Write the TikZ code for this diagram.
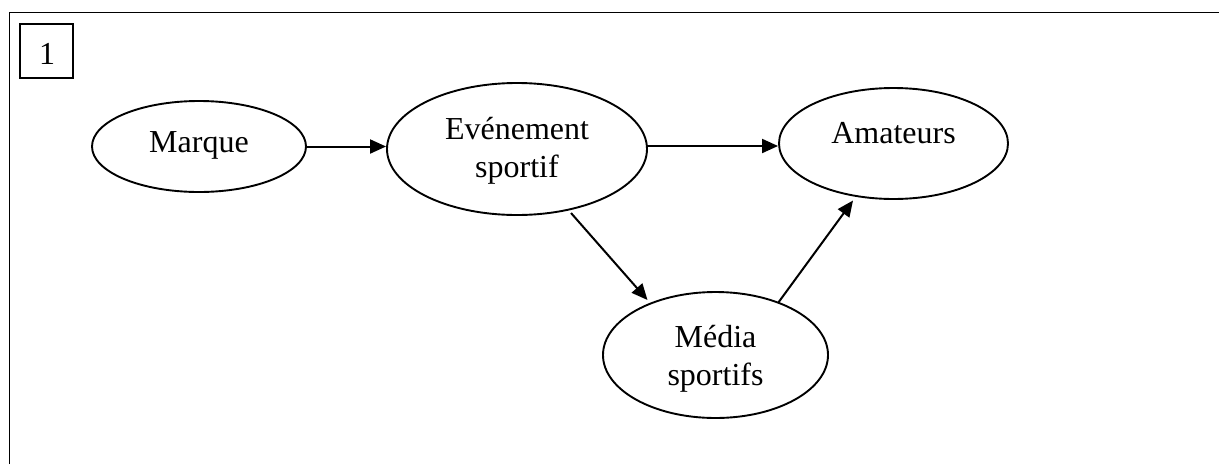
\documentclass[tikz,border=0pt]{standalone}
\usepackage{fontspec}
\setmainfont{Liberation Serif}
\usetikzlibrary{arrows.meta,shapes.geometric,calc}
\begin{document}
\begin{tikzpicture}[x=1pt,y=-1pt,
  bubble/.style={draw,ellipse,line width=1.9pt,inner sep=0pt},
  txt/.style={font=\fontsize{32}{38}\selectfont,align=center,inner sep=0pt,anchor=base},
  link/.style={line width=2pt,-{Triangle[length=16pt,width=14pt]}},
  frame/.style={line width=1.8pt}]
\useasboundingbox (0,0) rectangle (1219,464);
% outer frame (open at right and bottom)
\coordinate (fbl) at (9.5,464);
\coordinate (ftl) at (9.5,12.5);
\coordinate (ftr) at (1219,12.5);
\draw[frame] (fbl) -- (ftl) -- (ftr);
% number box
\node[draw,line width=1.8pt,minimum width=53pt,minimum height=54pt,inner sep=0pt] (num) at (46.5,51) {};
\node[txt] (numt) at (47,64) {1};
% ellipses
\node[bubble,minimum width=214pt,minimum height=91pt] (marque) at (199,146.5) {};
\node[bubble,minimum width=260pt,minimum height=132pt] (event) at (517,149) {};
\node[bubble,minimum width=229pt,minimum height=111pt] (amat) at (893.5,143.5) {};
\node[bubble,minimum width=225pt,minimum height=126pt] (media) at (715.5,355) {};
% texts
\node[txt] (marquet) at (199,152) {Marque};
\node[txt] (eventt) at (517,177) {Evénement\\sportif};
\node[txt] (amatt) at (893.5,143) {Amateurs};
\node[txt] (mediat) at (715.5,385) {Média\\sportifs};
% connector end points
\coordinate (a1) at ($(marque.center)+(107,0)$);
\coordinate (a2) at ($(event.center)+(54,64)$);
\coordinate (a3) at ($(media.center)+(-68,-55)$);
\coordinate (a4) at ($(media.center)+(62.5,-52)$);
\coordinate (a5) at ($(amat.center)+(-40.5,57)$);
\coordinate (a6) at ($(event.center)+(130,-3)$);
% connectors
\draw[link] (a1) -- (a1 -| event.west);
\draw[link] (a6) -- (a6 -| amat.west);
\draw[link] (a2) -- (a3);
\draw[link] (a4) -- (a5);
\end{tikzpicture}
\end{document}
